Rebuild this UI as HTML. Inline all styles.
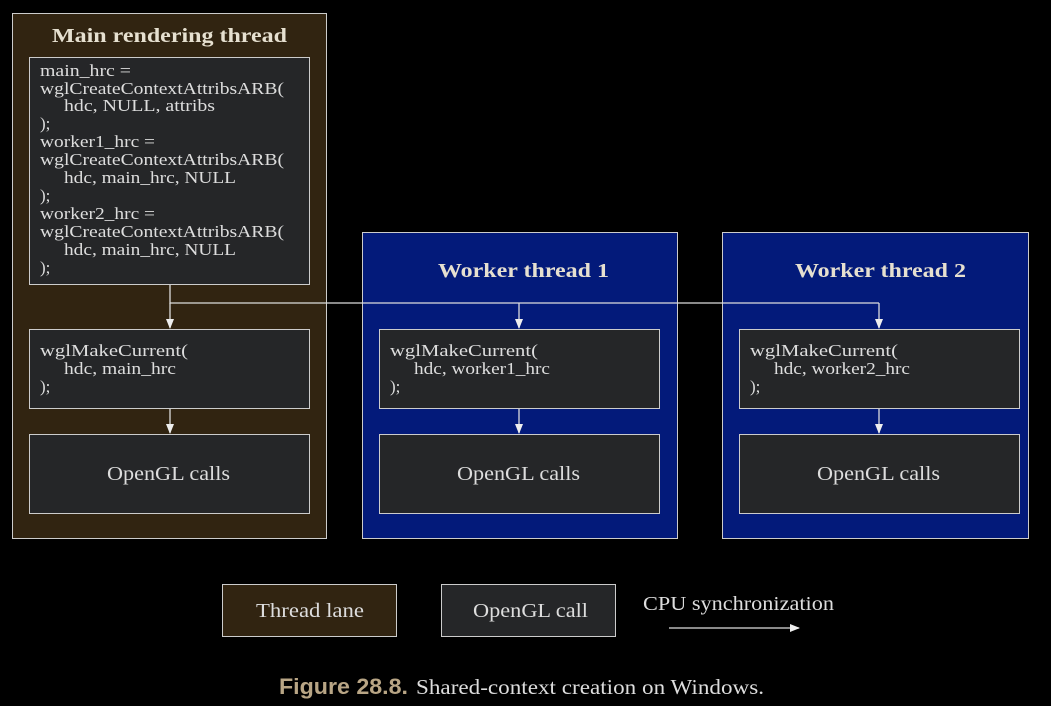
<html><head><style>body{margin:0;background:#000}</style></head><body>
<svg width="1051" height="706" xmlns="http://www.w3.org/2000/svg" font-family="Liberation Serif, serif" fill="#ddd">
<defs><marker id="a" markerWidth="10" markerHeight="8" refX="9" refY="4" orient="auto" markerUnits="userSpaceOnUse"><path d="M0,0L10,4L0,8z" fill="#eee"/></marker></defs>
<rect width="1051" height="706" fill="#000"/>
<rect x="12.5" y="13.5" width="314" height="525" fill="#312411" stroke="#ccc"/>
<rect x="362.5" y="232.5" width="315" height="306" fill="#031a7a" stroke="#ccc"/>
<rect x="722.5" y="232.5" width="306" height="306" fill="#031a7a" stroke="#ccc"/>
<g font-weight="bold" font-size="20" fill="#e6e0d0" lengthAdjust="spacingAndGlyphs">
<text x="52" y="42" textLength="235" lengthAdjust="spacingAndGlyphs">Main rendering thread</text>
<text x="438" y="277" textLength="171" lengthAdjust="spacingAndGlyphs">Worker thread 1</text>
<text x="795" y="277" textLength="171" lengthAdjust="spacingAndGlyphs">Worker thread 2</text></g>
<g fill="#252628" stroke="#ccc">
<rect x="29.5" y="57.5" width="280" height="227"/>
<rect x="29.5" y="329.5" width="280" height="79"/>
<rect x="29.5" y="434.5" width="280" height="79"/>
<rect x="379.5" y="329.5" width="280" height="79"/>
<rect x="379.5" y="434.5" width="280" height="79"/>
<rect x="739.5" y="329.5" width="280" height="79"/>
<rect x="739.5" y="434.5" width="280" height="79"/>
<rect x="222.5" y="584.5" width="174" height="52" fill="#312411"/>
<rect x="441.5" y="584.5" width="174" height="52"/>
</g>
<g font-size="17" fill="#ddd">
<text x="40" y="76" textLength="91" lengthAdjust="spacingAndGlyphs">main_hrc =</text>
<text x="40" y="94" textLength="244" lengthAdjust="spacingAndGlyphs">wglCreateContextAttribsARB(</text>
<text x="64" y="111" textLength="151" lengthAdjust="spacingAndGlyphs">hdc, NULL, attribs</text>
<text x="40" y="129">);</text>
<text x="40" y="147" textLength="115" lengthAdjust="spacingAndGlyphs">worker1_hrc =</text>
<text x="40" y="165" textLength="244" lengthAdjust="spacingAndGlyphs">wglCreateContextAttribsARB(</text>
<text x="64" y="183" textLength="172" lengthAdjust="spacingAndGlyphs">hdc, main_hrc, NULL</text>
<text x="40" y="201">);</text>
<text x="40" y="219" textLength="115" lengthAdjust="spacingAndGlyphs">worker2_hrc =</text>
<text x="40" y="237" textLength="244" lengthAdjust="spacingAndGlyphs">wglCreateContextAttribsARB(</text>
<text x="64" y="255" textLength="172" lengthAdjust="spacingAndGlyphs">hdc, main_hrc, NULL</text>
<text x="40" y="273">);</text>
<text x="40" y="356" textLength="148" lengthAdjust="spacingAndGlyphs">wglMakeCurrent(</text>
<text x="64" y="374" textLength="112" lengthAdjust="spacingAndGlyphs">hdc, main_hrc</text>
<text x="40" y="392">);</text>
<text x="390" y="356" textLength="148" lengthAdjust="spacingAndGlyphs">wglMakeCurrent(</text>
<text x="414" y="374" textLength="136" lengthAdjust="spacingAndGlyphs">hdc, worker1_hrc</text>
<text x="390" y="392">);</text>
<text x="750" y="356" textLength="148" lengthAdjust="spacingAndGlyphs">wglMakeCurrent(</text>
<text x="774" y="374" textLength="136" lengthAdjust="spacingAndGlyphs">hdc, worker2_hrc</text>
<text x="750" y="392">);</text>
</g>
<g font-size="20" fill="#ddd">
<text x="107" y="480" textLength="123" lengthAdjust="spacingAndGlyphs">OpenGL calls</text>
<text x="457" y="480" textLength="123" lengthAdjust="spacingAndGlyphs">OpenGL calls</text>
<text x="817" y="480" textLength="123" lengthAdjust="spacingAndGlyphs">OpenGL calls</text>
<text x="256" y="617" textLength="108" lengthAdjust="spacingAndGlyphs">Thread lane</text>
<text x="473" y="617" textLength="115" lengthAdjust="spacingAndGlyphs">OpenGL call</text>
<text x="643" y="610" textLength="191" lengthAdjust="spacingAndGlyphs">CPU synchronization</text>
</g>
<g stroke="#ddd" stroke-width="1.3" fill="none">
<path d="M170,285V303H879"/>
<path d="M170,303V328" marker-end="url(#a)"/>
<path d="M519,303V328" marker-end="url(#a)"/>
<path d="M879,303V328" marker-end="url(#a)"/>
<path d="M170,409V433" marker-end="url(#a)"/>
<path d="M519,409V433" marker-end="url(#a)"/>
<path d="M879,409V433" marker-end="url(#a)"/>
<path d="M669,628H799" marker-end="url(#a)"/>
</g>
<text x="279" y="694" font-family="Liberation Sans, sans-serif" font-weight="bold" font-size="22" fill="#b8a585" textLength="129" lengthAdjust="spacingAndGlyphs">Figure 28.8.</text>
<text x="416" y="694" font-size="21" fill="#ddd" textLength="348" lengthAdjust="spacingAndGlyphs">Shared-context creation on Windows.</text>
</svg>
</body></html>
